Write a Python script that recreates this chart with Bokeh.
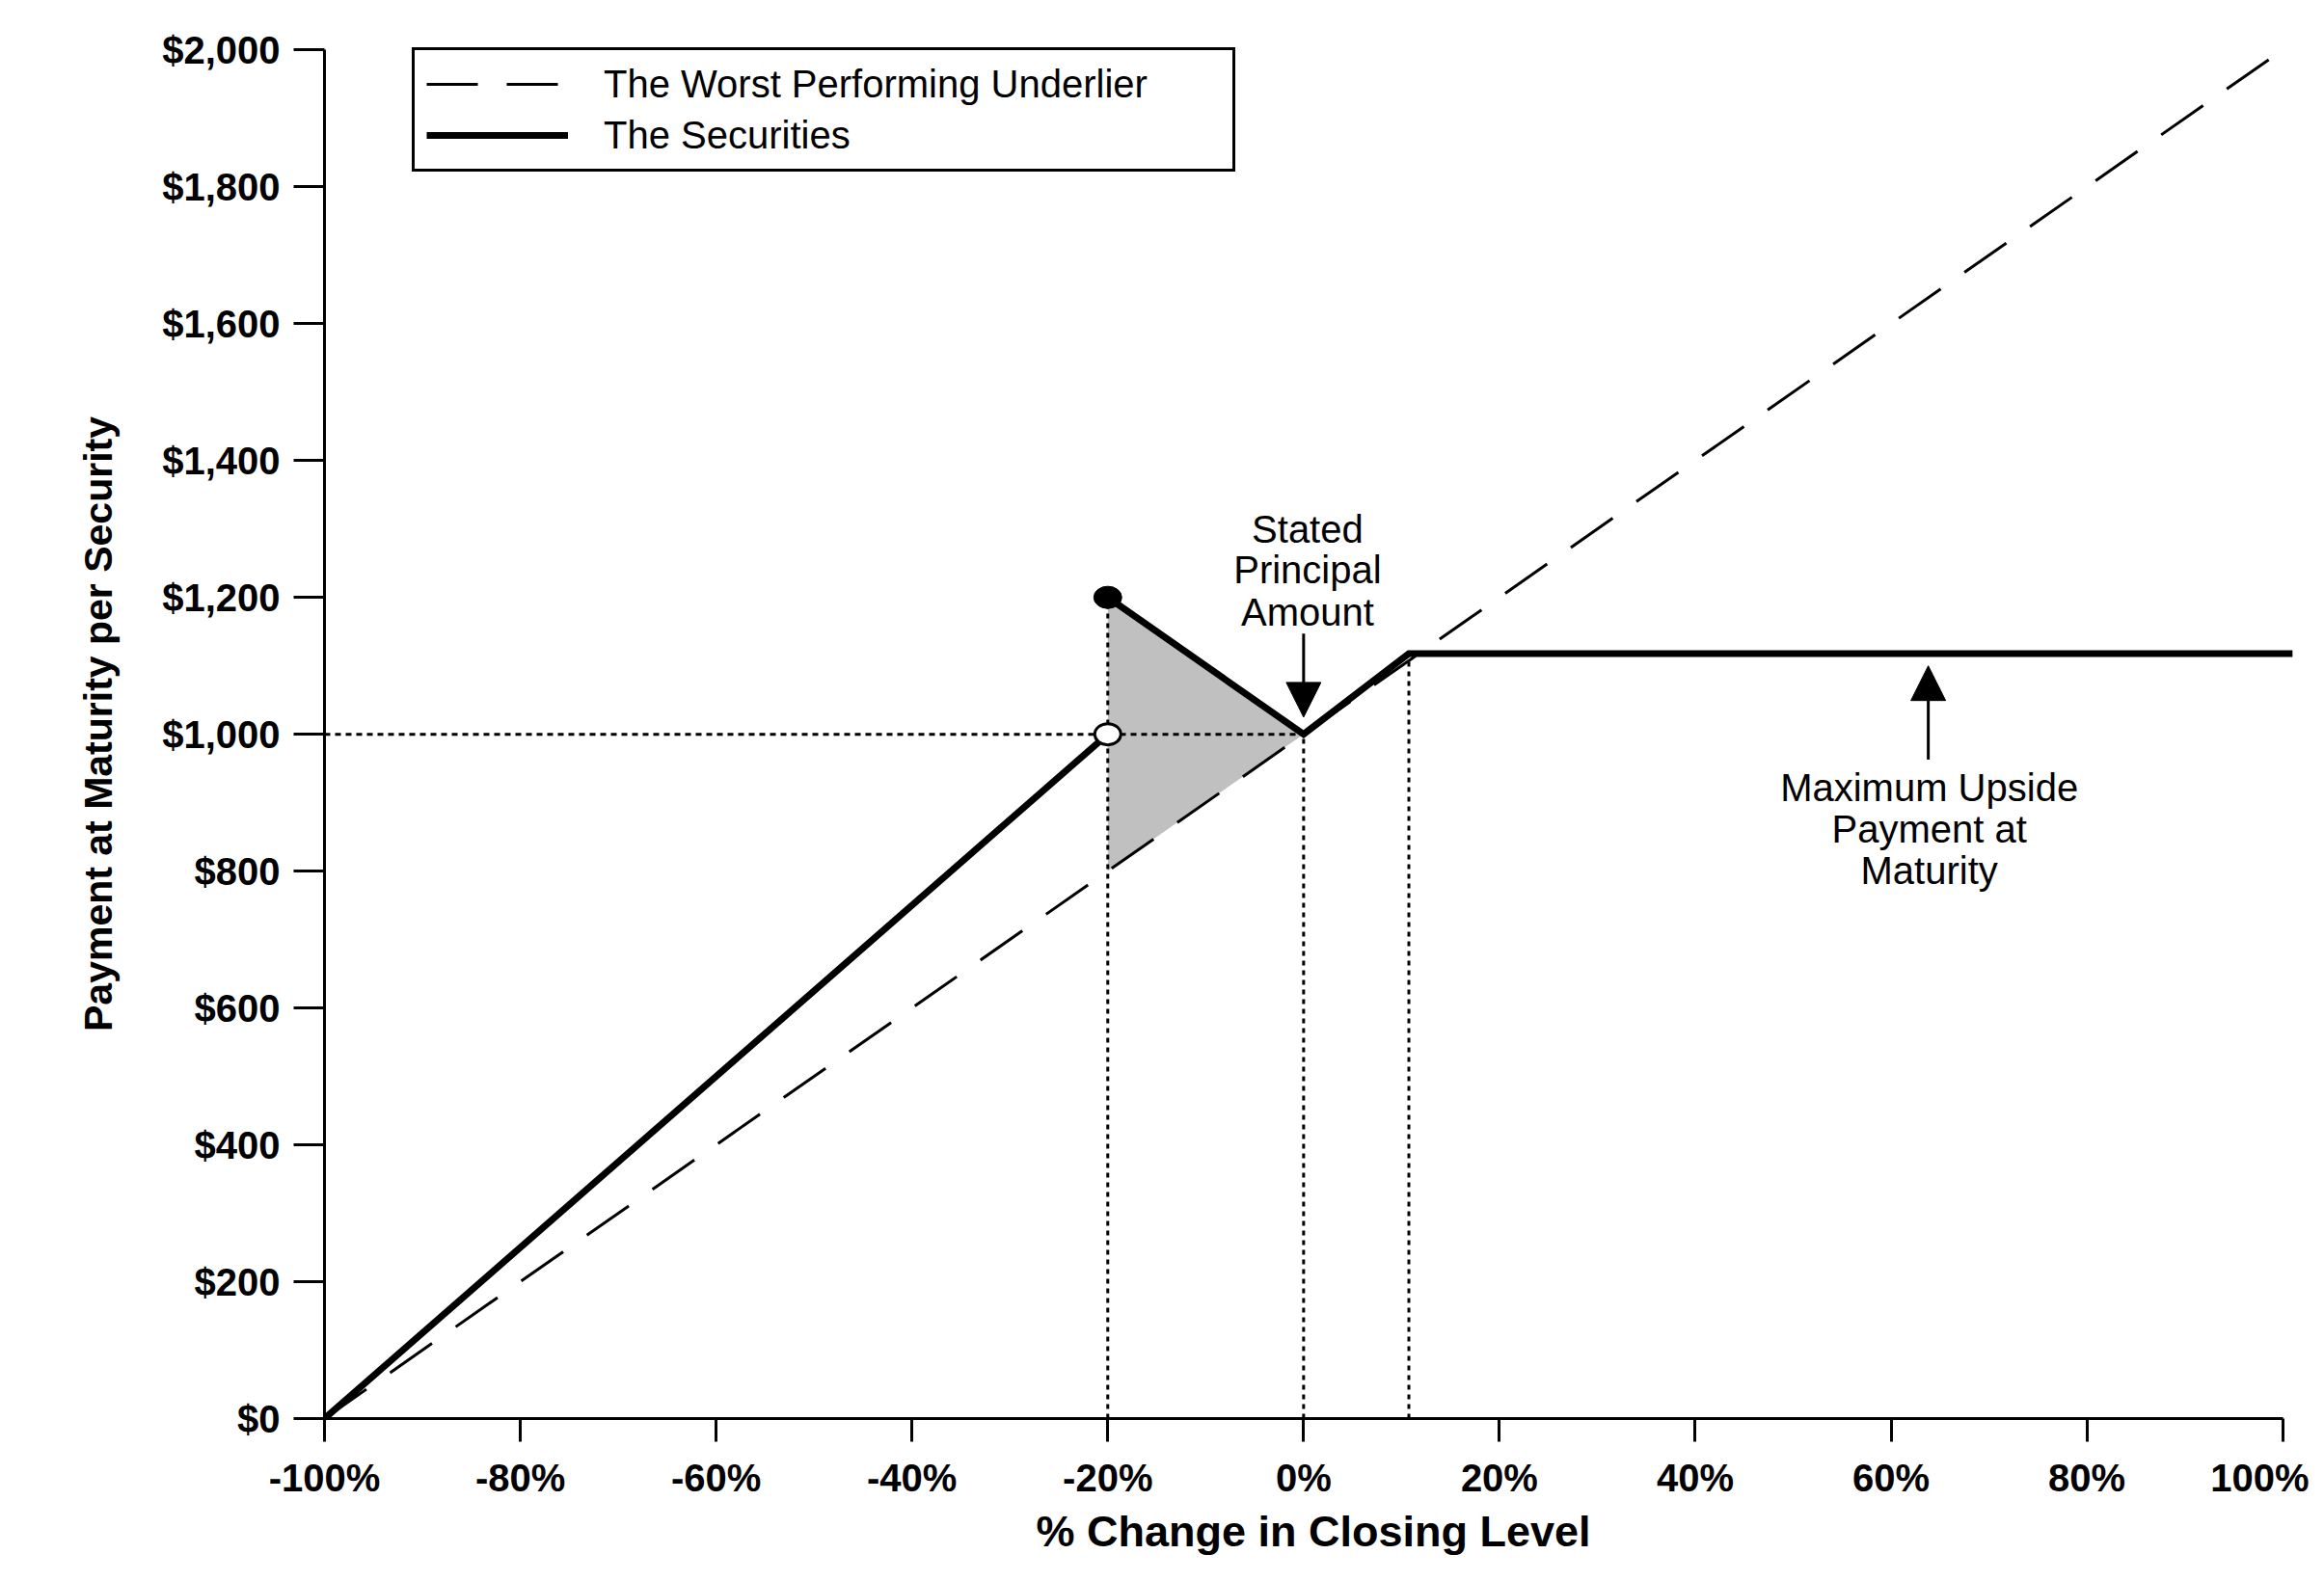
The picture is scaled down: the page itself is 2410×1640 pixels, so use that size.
from bokeh.plotting import figure
from bokeh.models import Range1d, FixedTicker, Legend, LegendItem, Arrow, NormalHead
from bokeh.core.properties import value
from bokeh.embed import file_html
from bokeh.resources import INLINE

# ---- data ----
x_ticks = [-100, -80, -60, -40, -20, 0, 20, 40, 60, 80, 100]
x_tick_labels = ["-100%", "-80%", "-60%", "-40%", "-20%", "0%", "20%", "40%", "60%", "80%", "100%"]
y_ticks = [0, 200, 400, 600, 800, 1000, 1200, 1400, 1600, 1800, 2000]
y_tick_labels = ["$0", "$200", "$400", "$600", "$800", "$1,000", "$1,200", "$1,400", "$1,600", "$1,800", "$2,000"]

underlier_x = [-100, 100]
underlier_y = [0, 2000]

sec_low_x = [-100, -20]
sec_low_y = [0, 1000]
sec_high_x = [-20, 0, 10.75, 101]
sec_high_y = [1200, 1000, 1118, 1118]

shade_x = [-20, 0, -20]
shade_y = [1200, 1000, 800]

open_pt_x = [-20]
open_pt_y = [1000]
filled_pt_x = [-20]
filled_pt_y = [1200]

vdot_x = [-20, 0, 10.75]
vdot_top = [1200, 1000, 1118]
hdot_x = [-100, 0]
hdot_y = [1000, 1000]

stated_lines = ["Stated", "Principal", "Amount"]
stated_x = [0.4, 0.4, 0.4]
stated_y = [1300, 1240, 1179]
stated_arrow = dict(x0=0, y0=1147, x1=0, y1=1025)

max_lines = ["Maximum Upside", "Payment at", "Maturity"]
max_x = [63.9, 63.9, 63.9]
max_y = [922, 861, 801]
max_arrow = dict(x0=63.8, y0=963, x1=63.8, y1=1100)

FONT = "Liberation Sans"

p = figure(width=2394, height=1621,
           x_range=Range1d(-100, 102), y_range=Range1d(0, 2030),
           output_backend="svg", toolbar_location=None,
           min_border_left=336, min_border_right=7,
           min_border_top=30, min_border_bottom=150)
p.outline_line_color = None
p.grid.visible = False
p.background_fill_color = "white"
p.border_fill_color = "white"

# shaded triangle
p.patch(shade_x, shade_y, fill_color="#c0c0c0", line_color=None)

# dotted guide lines
for xv, top in zip(vdot_x, vdot_top):
    p.line([xv, xv], [0, top], line_color="black", line_width=3, line_dash="5 5")
p.line(hdot_x, hdot_y, line_color="black", line_width=3, line_dash="6 5")

# underlier
r_under = p.line(underlier_x, underlier_y, line_color="black", line_width=3, line_dash="53 30")

# securities
r_sec = p.line(sec_low_x, sec_low_y, line_color="black", line_width=7)
p.line(sec_high_x, sec_high_y, line_color="black", line_width=7, line_join="miter")

# points
p.ellipse(filled_pt_x, filled_pt_y, width=29, height=23, width_units="screen", height_units="screen",
          fill_color="black", line_color="black")
p.ellipse(open_pt_x, open_pt_y, width=27, height=22, width_units="screen", height_units="screen",
          fill_color="white", line_color="black", line_width=3)

# annotations
p.text(stated_x, stated_y, text=stated_lines, text_font=value(FONT), text_font_size="40px",
       text_align="center", text_baseline="alphabetic", text_color="black")
p.text(max_x, max_y, text=max_lines, text_font=value(FONT), text_font_size="40px",
       text_align="center", text_baseline="alphabetic", text_color="black")

for a in (stated_arrow, max_arrow):
    p.add_layout(Arrow(end=NormalHead(size=36, fill_color="black", line_color="black", line_width=1),
                       x_start=a["x0"], y_start=a["y0"], x_end=a["x1"], y_end=a["y1"],
                       line_color="black", line_width=3))

# axes
p.xaxis.ticker = FixedTicker(ticks=x_ticks)
p.xaxis.major_label_overrides = {t: l for t, l in zip(x_ticks, x_tick_labels)}
p.yaxis.ticker = FixedTicker(ticks=y_ticks)
p.yaxis.major_label_overrides = {t: l for t, l in zip(y_ticks, y_tick_labels)}
p.xaxis.bounds = (-100, 100)
p.yaxis.bounds = (0, 2000)

for ax in (p.xaxis[0], p.yaxis[0]):
    ax.axis_line_width = 3
    ax.axis_line_color = "black"
    ax.major_tick_line_width = 3
    ax.major_tick_line_color = "black"
    ax.major_tick_in = 0
    ax.minor_tick_in = 0
    ax.minor_tick_out = 0
    ax.major_label_text_font = FONT
    ax.major_label_text_font_style = "bold"
    ax.major_label_text_font_size = "40px"
    ax.major_label_text_color = "black"
    ax.axis_label_text_font = FONT
    ax.axis_label_text_font_style = "bold"
    ax.axis_label_text_color = "black"

p.xaxis.major_tick_out = 24
p.xaxis.major_label_standoff = 15
p.xaxis.axis_label = "% Change in Closing Level"
p.xaxis.axis_label_text_font_size = "45px"
p.xaxis.axis_label_standoff = 5

p.yaxis.major_tick_out = 32
p.yaxis.major_label_standoff = 14
p.yaxis.axis_label = "Payment at Maturity per Security"
p.yaxis.axis_label_text_font_size = "41px"
p.yaxis.axis_label_standoff = 40

# legend
legend = Legend(items=[LegendItem(label="The Worst Performing Underlier", renderers=[r_under]),
                       LegendItem(label="The Securities", renderers=[r_sec])],
                location=(91, 1293),
                label_text_font=FONT, label_text_font_size="40px", label_text_color="black",
                glyph_width=147, glyph_height=40, label_standoff=37,
                label_width=640, label_height=46, spacing=7, padding=12, margin=0,
                border_line_width=3, border_line_color="black", border_line_alpha=1.0,
                background_fill_color="white", background_fill_alpha=1.0)
p.add_layout(legend, "center")

open("out.html", "w").write(file_html(p, INLINE))
